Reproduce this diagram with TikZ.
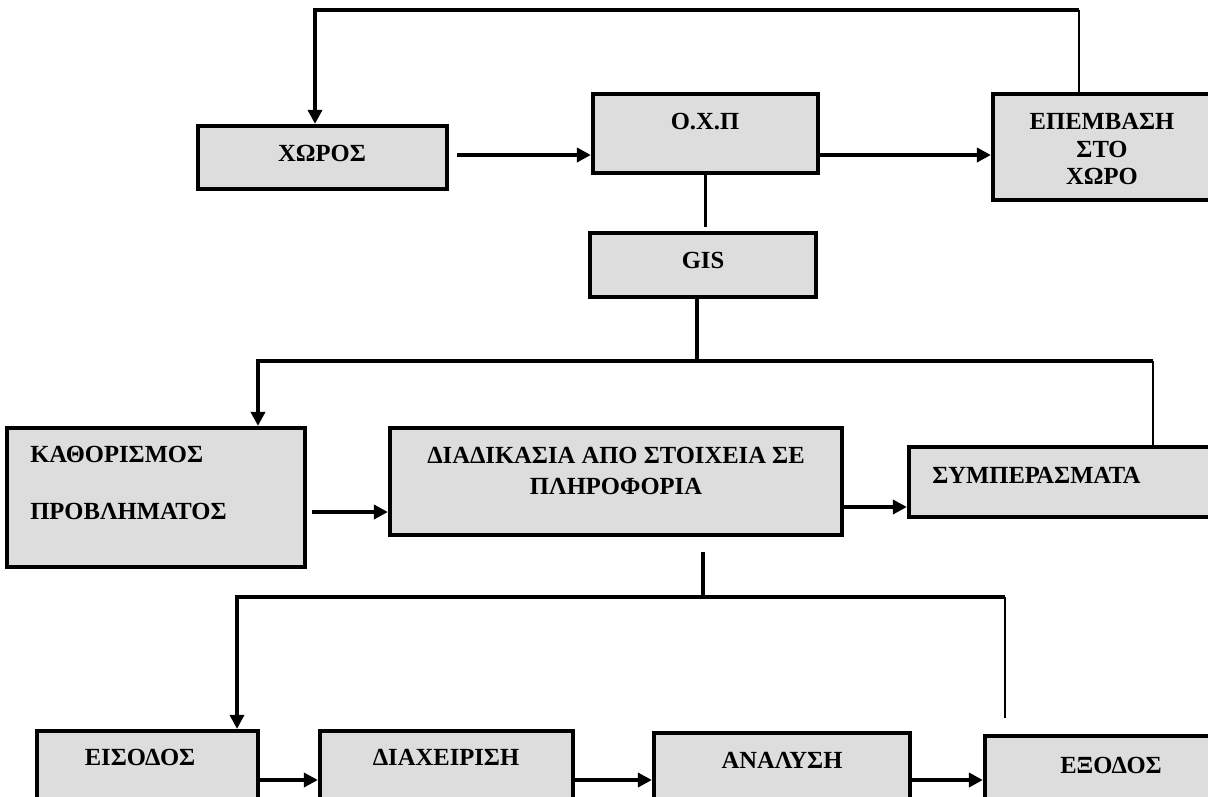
\documentclass[tikz,border=0pt]{standalone}
\usepackage{fontspec}
\setmainfont{Liberation Serif}
\usetikzlibrary{arrows.meta,calc,fit}
\definecolor{boxgray}{RGB}{221,221,221}
\begin{document}
\begin{tikzpicture}[x=0.025cm,y=-0.025cm,
  box/.style={draw,line width=3pt,fill=boxgray,inner sep=0pt},
  txt/.style={font=\fontsize{17.5}{19.5}\selectfont\bfseries,align=center,inner sep=0pt},
  conn/.style={line width=2.6pt},
  thinconn/.style={line width=2.1pt},
  arr/.style={conn,-{Triangle[length=10pt,width=10pt]}}]
 \clip (0,0) rectangle (1208,796);
 \foreach \n/\l/\t/\r/\b in {xoros/198/126/447/189, oxp/593/94/818/173,
   epem/993/94/1211/200, gis/590/233/816/297, kath/7/428/305/567,
   diad/390/428/842/535, symp/909/447/1230/517, eis/37/731/258/820,
   diax/320/731/573/820, anal/654/733/910/820, exod/985/736/1237/820}
   \node[box,fit={(\l,\t) (\r,\b)}] (\n) {};
 \node[txt] (xorosT) at (322,153) {ΧΩΡΟΣ};
 \node[txt] (oxpT) at (705,122) {Ο.Χ.Π};
 \node[txt] (epemT) at (1102,149) {ΕΠΕΜΒΑΣΗ\\ΣΤΟ\\ΧΩΡΟ};
 \node[txt] (gisT) at (703,260) {GIS};
 \node[txt,anchor=west,align=left] (kathT) at (30,483) {ΚΑΘΟΡΙΣΜΟΣ\\[21pt]ΠΡΟΒΛΗΜΑΤΟΣ};
 \node[txt] (diadT) at (616,471) {ΔΙΑΔΙΚΑΣΙΑ ΑΠΟ ΣΤΟΙΧΕΙΑ ΣΕ\\[3pt]ΠΛΗΡΟΦΟΡΙΑ};
 \node[txt,anchor=west] (sympT) at (932,475) {ΣΥΜΠΕΡΑΣΜΑΤΑ};
 \node[txt] (eisT) at (140,757) {ΕΙΣΟΔΟΣ};
 \node[txt] (diaxT) at (446,757) {ΔΙΑΧΕΙΡΙΣΗ};
 \node[txt] (analT) at (782,760) {ΑΝΑΛΥΣΗ};
 \node[txt] (exodT) at (1111,765) {ΕΞΟΔΟΣ};
 \coordinate (rowA) at (0,155);
 \coordinate (rowB) at (0,512);
 \coordinate (rowC) at (0,507);
 \coordinate (rowD) at (0,780);
 \coordinate (topL) at (315,10);
 \coordinate (topR) at (1079,10);
 \coordinate (splitG) at (697,361);
 \coordinate (brL) at (258,361);
 \coordinate (brR) at (1153,361);
 \coordinate (splitD) at (703,597);
 \coordinate (brL2) at (237,597);
 \coordinate (brR2) at (1005,597);
 \draw[thinconn] (topR |- epem.north) -- (topR);
 \draw[arr] (topR) -- (topL) -- (topL |- xoros.north);
 \draw[arr] ($(xoros.east |- rowA)+(8,0)$) -- (oxp.west |- rowA);
 \draw[arr] (oxp.east |- rowA) -- (epem.west |- rowA);
 \draw[conn] (oxp.south) -- ++(0,52);
 \draw[conn] (gis.south -| splitG) -- (splitG);
 \draw[arr] (brR) -- (brL) -- (brL |- kath.north);
 \draw[thinconn] (brR) -- (brR |- symp.north);
 \draw[arr] ($(kath.east |- rowB)+(5,0)$) -- (diad.west |- rowB);
 \draw[arr] (diad.east |- rowC) -- (symp.west |- rowC);
 \draw[conn] ($(diad.south -| splitD)+(0,15)$) -- (splitD);
 \draw[arr] (brR2) -- (brL2) -- (brL2 |- eis.north);
 \draw[thinconn] (brR2) -- ($(brR2 |- exod.north)+(0,-16)$);
 \foreach \a/\b in {eis/diax, diax/anal, anal/exod}
   \draw[arr] (\a.east |- rowD) -- (\b.west |- rowD);
\end{tikzpicture}
\end{document}
